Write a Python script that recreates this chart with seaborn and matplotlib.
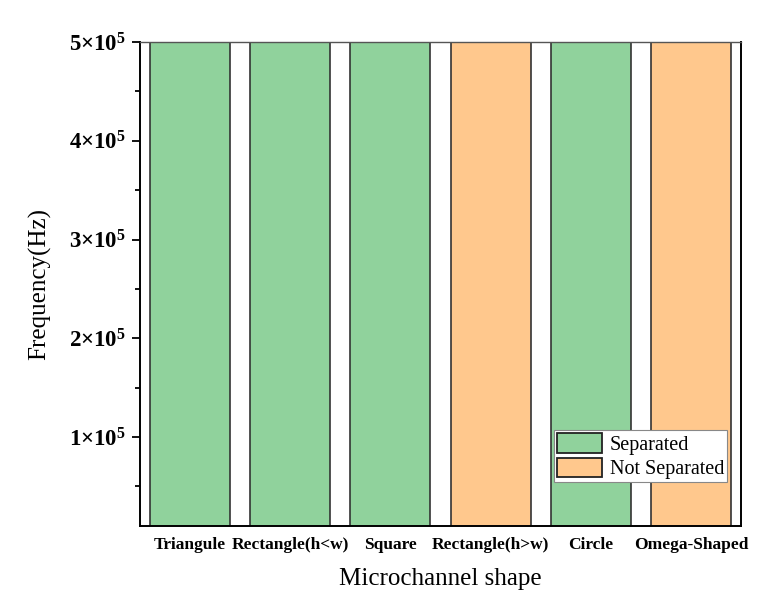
import matplotlib
matplotlib.use("Agg")
import matplotlib.pyplot as plt
import matplotlib.ticker as mticker
import seaborn as sns

# ── Data ──────────────────────────────────────────────────────────────────────
shapes = ["Triangule", "Rectangle(h<w)", "Square", "Rectangle(h>w)", "Circle", "Omega-Shaped"]
frequency = [5e5, 5e5, 5e5, 5e5, 5e5, 5e5]
status = ["Separated", "Separated", "Separated", "Not Separated", "Separated", "Not Separated"]
status_colours = {"Separated": "#90D29C", "Not Separated": "#FFC88D"}

# ── Style ─────────────────────────────────────────────────────────────────────
sns.set_theme(style="white")
plt.rcParams["font.family"] = ["Liberation Serif", "DejaVu Serif"]
plt.rcParams["mathtext.fontset"] = "custom"
plt.rcParams["mathtext.rm"] = "Liberation Serif"
plt.rcParams["mathtext.bf"] = "Liberation Serif:bold"
for key in ("text.color", "axes.labelcolor", "xtick.color", "ytick.color"):
    plt.rcParams[key] = "black"

fig = plt.figure(figsize=(7.73, 6.06), dpi=100)
ax = fig.add_axes([0.1811, 0.132, 0.7775, 0.7987])

sns.barplot(
    x=shapes, y=frequency, hue=status, dodge=False, palette=status_colours,
    width=0.8, edgecolor="#333333", linewidth=1.2, saturation=1, ax=ax,
)

ax.set_xlim(-0.5, len(shapes) - 0.5)
ax.set_ylim(1e4, 5e5)
ax.yaxis.set_major_locator(mticker.MultipleLocator(1e5))
ax.yaxis.set_minor_locator(mticker.MultipleLocator(5e4))


def sci_label(v, _pos):
    if v <= 0:
        return ""
    return r"$\mathbf{%d{\times}10^{5}}$" % round(v / 1e5)


ax.yaxis.set_major_formatter(mticker.FuncFormatter(sci_label))
ax.tick_params(axis="y", which="major", direction="out", length=6, width=1.3,
               labelsize=16.5, left=True, pad=4, color="black")
ax.tick_params(axis="y", which="minor", direction="out", length=3.5, width=1.3,
               left=True, color="black")
ax.tick_params(axis="x", length=0, pad=8)
for lab in ax.get_xticklabels():
    lab.set_fontweight("bold")
    lab.set_fontsize(12.5)

for side, sp in ax.spines.items():
    sp.set_visible(True)
    sp.set_color("black")
    sp.set_linewidth(1.4)
ax.spines["top"].set_color("#555555")
ax.spines["top"].set_linewidth(1.0)

ax.set_xlabel("Microchannel shape", fontsize=18, labelpad=11)
ax.set_ylabel("Frequency(Hz)", fontsize=18, labelpad=13)

leg = ax.legend(
    loc="lower right", bbox_to_anchor=(0.977, 0.09), fontsize=14.5,
    frameon=True, fancybox=False, edgecolor="#888888", framealpha=1,
    handlelength=2.2, handleheight=1.1, borderpad=0.15, labelspacing=0.15,
    handletextpad=0.4, borderaxespad=0,
)
leg.get_frame().set_linewidth(0.8)
for h in leg.legend_handles:
    h.set_edgecolor("#222222")
    h.set_linewidth(1.3)

fig.savefig("out.png", dpi=100)
